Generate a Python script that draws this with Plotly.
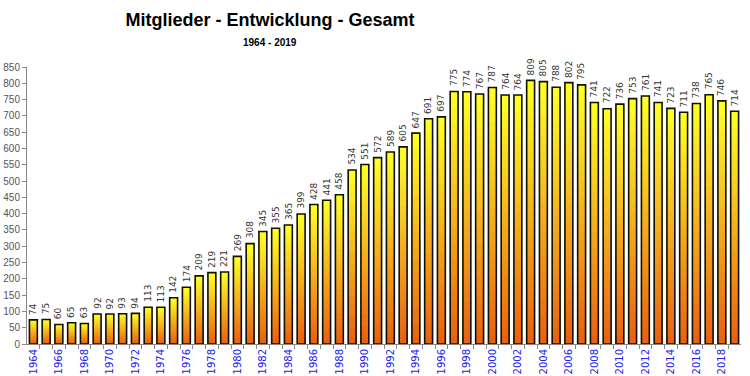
import plotly.graph_objects as go

years = list(range(1964, 2020))
members = [74, 75, 60, 65, 63, 92, 92, 93, 94, 113, 113,
           142, 174, 209, 219, 221, 269, 308, 345, 355, 365, 399, 428, 441, 458,
           534, 551, 572, 589, 605, 647, 691, 697, 775, 774, 767, 787,
           764, 764, 809, 805, 788, 802, 795, 741, 722, 736, 753, 761, 741,
           723, 711, 738, 765, 746, 714]
tick_years = [y for y in years if y % 2 == 0]

title_text = "Mitglieder - Entwicklung - Gesamt"
subtitle_text = "1964 - 2019"

top_rgb = (255, 255, 40)
bottom_rgb = (232, 92, 18)
N = 30
bar_w = 0.62

W, H = 750, 376
L, R, T, B = 27, 9, 67, 32
plot_w = W - L - R
plot_h = H - T - B
title_cx = 270

fig = go.Figure()
for k in range(N):
    frac = (N - k) / N
    c = tuple(int(round(bottom_rgb[i] + (top_rgb[i] - bottom_rgb[i]) * frac)) for i in range(3))
    fig.add_trace(go.Bar(
        x=years, y=[v * frac for v in members], width=bar_w,
        marker=dict(color="rgb(%d,%d,%d)" % c, line=dict(width=0)),
        hoverinfo="skip", showlegend=False))

fig.add_trace(go.Bar(
    x=years, y=members, width=bar_w,
    marker=dict(color="rgba(0,0,0,0)", line=dict(color="#111100", width=1.6)),
    showlegend=False))

title_family = "Liberation Sans, Arial, sans-serif"
annotations = [dict(text="<b>" + subtitle_text + "</b>", xref="paper", yref="paper",
                    x=(title_cx - L) / plot_w, y=1 + 25 / plot_h, xanchor="center", yanchor="middle",
                    showarrow=False, font=dict(family=title_family, size=10, color="black"))]
for yr, v in zip(years, members):
    annotations.append(dict(x=yr, y=v, xref="x", yref="y", text=str(v), showarrow=False,
                            textangle=-90, xanchor="center", yanchor="bottom", yshift=3,
                            font=dict(family="DejaVu Sans, Verdana, sans-serif", size=9, color="#333333")))

fig.update_layout(
    width=W, height=H, barmode="overlay",
    paper_bgcolor="white", plot_bgcolor="white",
    margin=dict(l=L, r=R, t=T, b=B),
    title=dict(text="<b>" + title_text + "</b>", x=title_cx / W, xanchor="center",
               xref="container", yref="container", y=1 - 20 / H, yanchor="middle",
               font=dict(family=title_family, size=18, color="black")),
    annotations=annotations,
)

fig.update_xaxes(
    range=[1963.5, 2019.5], tickmode="array", tickvals=tick_years,
    ticktext=[str(y) for y in tick_years], tickangle=-90, ticks="", automargin=False,
    tickfont=dict(family="DejaVu Sans, Verdana, sans-serif", size=10, color="#2222ee"),
    showline=True, linecolor="#888888", linewidth=1, showgrid=False, zeroline=False,
    minor=dict(tickvals=[y + 0.5 for y in years[:-1]], ticks="outside", ticklen=4, tickcolor="#888888"),
)
fig.update_yaxes(
    range=[0, 850], dtick=50, tick0=0, ticks="outside", ticklen=4, tickcolor="#888888",
    automargin=False,
    tickfont=dict(family="Liberation Sans, Arial, sans-serif", size=10, color="#555555"),
    showline=True, linecolor="#888888", linewidth=1, showgrid=False, zeroline=False,
)

# remove the default 8px page margin so the figure fills the window exactly
fig.write_html("out.html", config={"displayModeBar": False},
               post_script="document.body.style.margin='0';")
